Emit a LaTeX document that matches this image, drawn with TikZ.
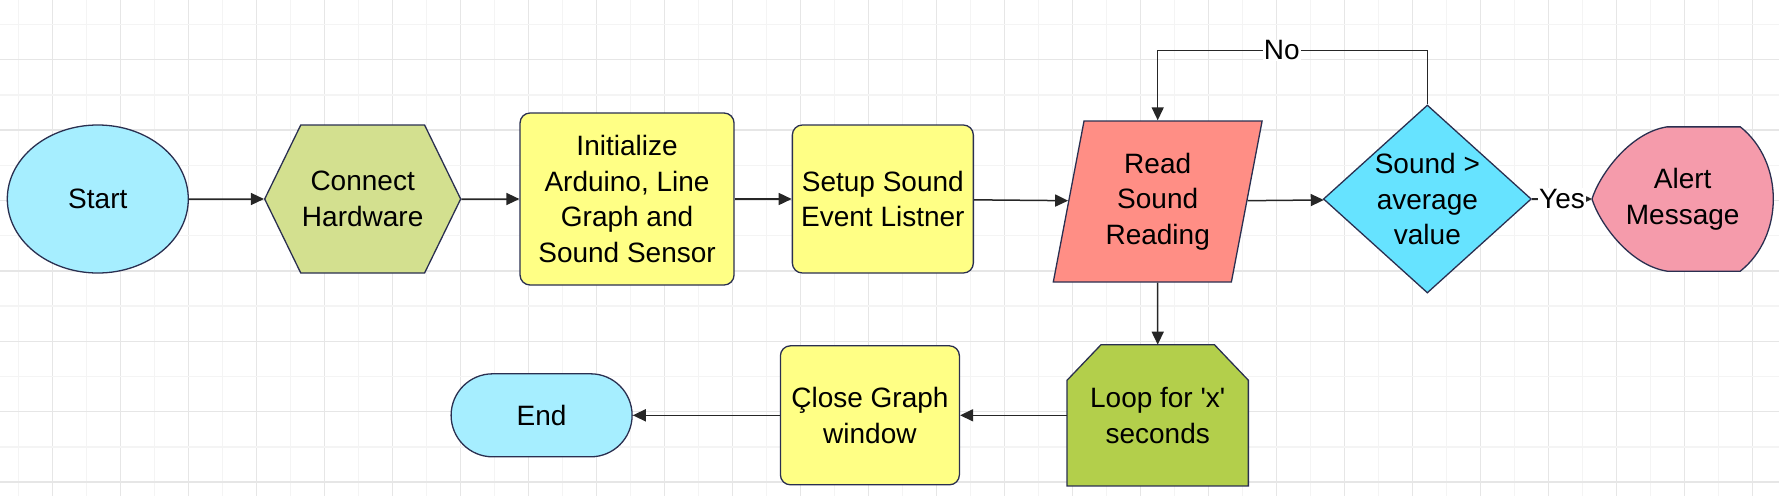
\documentclass[tikz,border=0pt]{standalone}
\usepackage[usenames,dvipsnames]{xcolor}
\usepackage{fontspec}
\newfontfamily\flowfont{Liberation Sans}
\usepackage{tikz}
\usetikzlibrary{arrows,arrows.meta,shapes,positioning}

\definecolor{termcyan}{HTML}{A6EEFF}
\definecolor{hwgreen}{HTML}{D3E08F}
\definecolor{procyellow}{HTML}{FFFF85}
\definecolor{readred}{HTML}{FF8E85}
\definecolor{deccyan}{HTML}{66E3FF}
\definecolor{alertpink}{HTML}{F59BAB}
\definecolor{loopgreen}{HTML}{B3CF4B}
\definecolor{outline}{HTML}{2A2F50}
\definecolor{gridlight}{HTML}{F4F4F4}
\definecolor{griddark}{HTML}{E6E6E6}

\pgfdeclarelayer{grid}
\pgfdeclarelayer{background}
\pgfsetlayers{grid,background,main}

\tikzset{
    box/.style={draw=outline, line width=1.3pt, align=center, inner sep=0pt,
        font=\flowfont\fontsize{28}{35.6}\selectfont},
    terminal/.style={box, fill=termcyan},
    process/.style={box, rectangle, rounded corners=10pt, fill=procyellow},
    arr/.style={line width=1.5pt, draw=black!85, -{Triangle[length=13pt,width=12pt]}},
    lbl/.style={fill=white, inner sep=1pt, font=\flowfont\fontsize{28}{35.6}\selectfont}
}

\begin{document}
\begin{tikzpicture}[x=1pt,y=-1pt]
    \useasboundingbox (0,0) rectangle (1779,496);
    \begin{pgfonlayer}{grid}
        \foreach \j in {0,...,25} {
            \draw[gridlight, line width=1.5pt] ({18.7+68*\j},0) -- ({18.7+68*\j},496);
            \draw[griddark, line width=1.5pt] ({52.7+68*\j},0) -- ({52.7+68*\j},496);
        }
        \foreach \j in {0,...,6} {
            \draw[gridlight, line width=1.5pt] (0,{24.5+70.4*\j}) -- (1779,{24.5+70.4*\j});
            \draw[griddark, line width=1.5pt] (0,{59.7+70.4*\j}) -- (1779,{59.7+70.4*\j});
        }
    \end{pgfonlayer}

    \node[terminal, ellipse, minimum width=181pt, minimum height=148pt] (start) at (97.8,199) {Start};
    \node[box, signal, signal to=west and east, signal pointer angle=128, fill=hwgreen,
        minimum width=196pt, minimum height=148pt, right=75pt of start] (hw) {Connect\\Hardware};
    \node[process, minimum width=214pt, minimum height=172pt, right=58pt of hw] (init)
        {Initialize\\Arduino, Line\\Graph and\\Sound Sensor};
    \node[process, minimum width=181pt, minimum height=148pt, right=57pt of init] (setup)
        {Setup Sound\\Event Listner};
    \node[box, trapezium, trapezium left angle=77.4, trapezium right angle=102.6,
        trapezium stretches=true, fill=readred, minimum width=209pt, minimum height=161pt,
        right=94pt of setup, yshift=-2.5pt] (read) {Read\\Sound\\Reading};
    \node[box, diamond, inner sep=-6pt, fill=deccyan, minimum width=208pt, minimum height=188pt,
        right=165pt of read.center, yshift=2.5pt] (dec) {Sound >\\average\\value};
    \node[box, draw=none, minimum width=180pt, minimum height=143pt, right=60pt of dec] (alert)
        {Alert\\Message};
    \node[box, draw=none, minimum width=180pt, minimum height=140pt, below=62pt of read] (loop)
        {Loop for 'x'\\seconds};
    \node[process, minimum width=179pt, minimum height=139pt, left=107pt of loop] (close)
        {Çlose Graph\\window};
    \node[terminal, rounded corners=41.5pt, minimum width=181pt, minimum height=83pt,
        left=147pt of close] (end) {End};

    \begin{pgfonlayer}{background}
        \draw[draw=outline, line width=1.3pt, fill=alertpink]
            ([xshift=-33pt]alert.north east) -- ([xshift=75pt]alert.north west)
            .. controls +(-38,6) and +(7,-23) .. (alert.west)
            .. controls +(7,23) and +(-38,-6) .. ([xshift=75pt]alert.south west)
            -- ([xshift=-33pt]alert.south east)
            .. controls +(44,-35) and +(44,35) .. ([xshift=-33pt]alert.north east) -- cycle;
        \draw[draw=outline, line width=1.3pt, fill=loopgreen]
            (loop.south west) -- ([yshift=-35.6pt]loop.north west)
            -- ([xshift=34pt]loop.north west) -- ([xshift=-34pt]loop.north east)
            -- ([yshift=-35.6pt]loop.north east) -- (loop.south east) -- cycle;
    \end{pgfonlayer}

    \draw[arr] (start) -- (hw);
    \draw[arr] (hw) -- (init);
    \draw[arr] (init) -- (setup);
    \draw[arr] (setup) -- (read);
    \draw[arr] (read) -- (dec);
    \draw[arr] (dec) -- node[lbl] {Yes} (alert);
    \draw[arr] (dec.north) -- ++(0,-54) -| node[lbl, pos=0.27] {No} (read);
    \draw[arr] (read) -- (loop);
    \draw[arr] (loop) -- (close);
    \draw[arr] (close) -- (end);
\end{tikzpicture}
\end{document}
